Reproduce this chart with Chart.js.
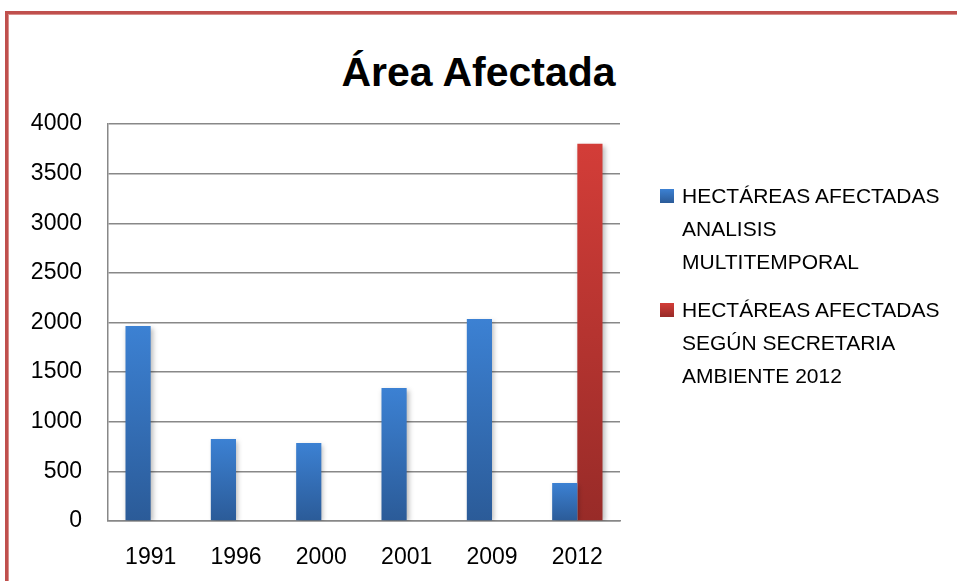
<!DOCTYPE html>
<html>
<head>
<meta charset="utf-8">
<script src="https://cdn.jsdelivr.net/npm/chart.js@4.4.1/dist/chart.umd.min.js"></script>
<style>
  body { margin: 0; background: #fff; font-family: "Liberation Sans", Arial, sans-serif; }
  #wrap { position: relative; width: 957px; height: 581px; overflow: hidden; }
  #frame {
    position: absolute; left: 5px; top: 11px; width: 960px; height: 580px;
    border-top: 3px solid #c0504d; border-left: 3px solid #c0504d;
    box-shadow: inset 1px 1px 0 #d9908d;
  }
  #title {
    position: absolute; left: 0; top: 52px; width: 957px; text-align: center;
    font: bold 41px/41px "Liberation Sans", Arial, sans-serif; color: #000;
  }
  #chart { position: absolute; left: 0; top: 0; }
  #legend { position: absolute; left: 660px; top: 179px; }
  .item { position: relative; padding-left: 22px; width: 265px; margin-bottom: 15px;
          font-size: 21px; line-height: 33px; color: #000; }
  .item i { position: absolute; left: 0; top: 10px; width: 14px; height: 14px; }
</style>
</head>
<body>
<div id="wrap">
  <div id="frame"></div>
  <div id="title">Área Afectada</div>
  <canvas id="chart" width="957" height="581"></canvas>
  <div id="legend"></div>
</div>
<script>
// Hectáreas afectadas por año
const years = ['1991', '1996', '2000', '2001', '2009', '2012'];
const multitemporal = [1965, 826, 786, 1340, 2035, 383];
const secretaria = [null, null, null, null, null, 3800];
const yTicks = [0, 500, 1000, 1500, 2000, 2500, 3000, 3500, 4000];
const seriesNames = ['HECTÁREAS AFECTADAS ANALISIS MULTITEMPORAL', 'HECTÁREAS AFECTADAS SEGÚN SECRETARIA AMBIENTE 2012'];

const blue = ['#3c81d3', '#2b5b98'];
const red = ['#d33d38', '#982b28'];

// vertical gradient per bar, lighter on top
function barFill(colors) {
    return (c) => {
        const chart = c.chart;
        if (!chart.chartArea || c.type !== 'data' || c.raw == null) return colors[0];
        const y = chart.scales.y;
        const g = chart.ctx.createLinearGradient(0, y.getPixelForValue(c.raw), 0, y.getPixelForValue(0));
        g.addColorStop(0, colors[0]);
        g.addColorStop(1, colors[1]);
        return g;
    };
}

// soft shadow behind the bars
const barShadow = {
    id: 'barShadow',
    beforeDatasetsDraw(chart) {
        const ctx = chart.ctx;
        ctx.save();
        ctx.shadowColor = 'rgba(0,0,0,0.28)';
        ctx.shadowBlur = 5;
        ctx.shadowOffsetX = 2;
        ctx.shadowOffsetY = 2;
    },
    afterDatasetsDraw(chart) {
        chart.ctx.restore();
    }
};

const ctx = document.getElementById('chart').getContext('2d');
new Chart(ctx, {
    type: 'bar',
    data: {
        labels: years,
        datasets: [
            { label: seriesNames[0], data: multitemporal, backgroundColor: barFill(blue) },
            { label: seriesNames[1], data: secretaria, backgroundColor: barFill(red) }
        ]
    },
    options: {
        responsive: false,
        animation: false,
        layout: { padding: { left: 8, right: 337, top: 124, bottom: 0 } },
        datasets: { bar: { categoryPercentage: 0.59, barPercentage: 1 } },
        plugins: { legend: { display: false }, title: { display: false }, tooltip: { enabled: false } },
        scales: {
            x: {
                grid: { display: false },
                border: { color: '#888', width: 1.5 },
                ticks: { color: '#000', padding: 15, font: { family: 'Liberation Sans', size: 23 } },
                afterFit(scale) { scale.height = 60; }
            },
            y: {
                min: 0,
                max: 4000,
                afterBuildTicks(scale) { scale.ticks = yTicks.map(v => ({ value: v })); },
                grid: { color: '#888', lineWidth: 1.5, drawTicks: false },
                border: { color: '#888', width: 1.5 },
                ticks: {
                    color: '#000', padding: 26, font: { family: 'Liberation Sans', size: 23 },
                    callback: (v) => String(v)
                },
                afterFit(scale) { scale.width = 100; }
            }
        }
    },
    plugins: [barShadow]
});

// legend with wrapped labels
const legend = document.getElementById('legend');
[blue, red].forEach((colors, i) => {
    const item = document.createElement('div');
    item.className = 'item';
    const sw = document.createElement('i');
    sw.style.background = `linear-gradient(${colors[0]}, ${colors[1]})`;
    item.appendChild(sw);
    item.appendChild(document.createTextNode(seriesNames[i]));
    legend.appendChild(item);
});
</script>
</body>
</html>
